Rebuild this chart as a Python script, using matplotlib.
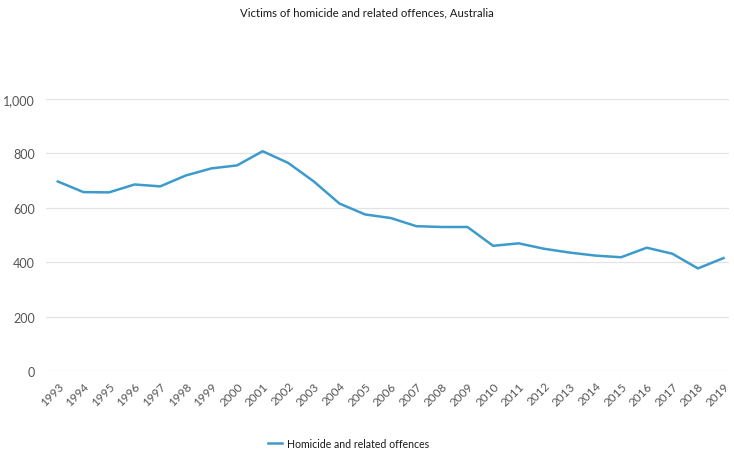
import matplotlib
matplotlib.use('Agg')
import matplotlib.pyplot as plt
from matplotlib.ticker import FuncFormatter

plt.rcParams['font.family'] = ['Lato', 'DejaVu Sans']

# 数据：每年的受害者人数
years = list(range(1993, 2020))
victims = [697, 658, 657, 686, 679, 719, 745, 756, 808, 765, 697, 616,
           576, 563, 533, 530, 530, 461, 470, 450, 436, 425, 419, 454,
           432, 378, 416]
series_name = 'Homicide and related offences'
title = 'Victims of homicide and related offences, Australia'

fig = plt.figure(figsize=(7.34, 4.52), dpi=100)
ax = fig.add_axes([0.0627, 0.176, 0.93, 0.603])

ax.plot(years, victims, color='#3d9bcb', linewidth=1.8, label=series_name)

ax.set_ylim(0, 1000)
ax.set_xlim(1992.54, 2019.2)
ax.set_yticks(range(0, 1001, 200))
ax.yaxis.set_major_formatter(FuncFormatter(lambda v, p: f'{int(v):,}'))
ax.set_xticks(years)
ax.set_xticklabels([str(y) for y in years], rotation=45, ha='right',
                   rotation_mode='anchor')

ax.grid(axis='y', color='#e3e3e3', linewidth=0.9)
ax.set_axisbelow(True)
for s in ax.spines.values():
    s.set_visible(False)
ax.tick_params(axis='y', length=0, labelsize=9, colors='#555555', pad=8)
ax.tick_params(axis='x', length=0, labelsize=8.5, colors='#555555', pad=6)

fig.text(0.5, 0.972, title, ha='center', va='center', fontsize=8.2,
         color='#1a1a1a')

fig.legend(loc='center', bbox_to_anchor=(0.475, 0.017), frameon=False,
           fontsize=7.6, handlelength=1.3, handletextpad=0.5,
           labelcolor='#1a1a1a')

fig.savefig('out.png', dpi=100)
